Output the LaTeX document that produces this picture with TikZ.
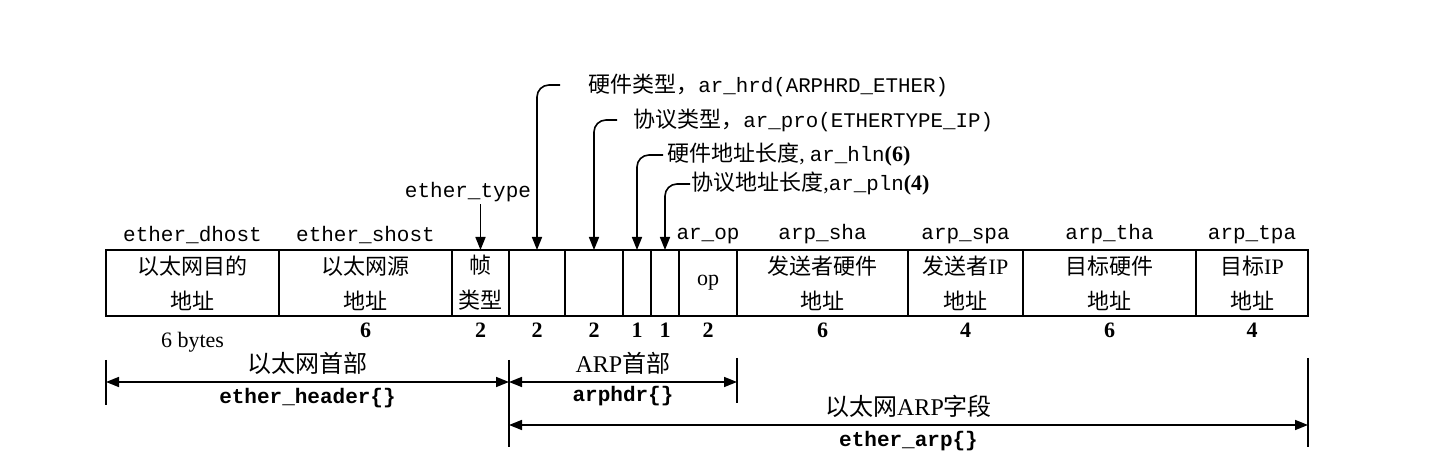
\documentclass[tikz,border=0pt]{standalone}
\usepackage{fontspec}
\setmainfont{Liberation Serif}
\setmonofont{Liberation Mono}
\newfontfamily\cjk{Noto Sans CJK SC}
\newcommand{\code}[1]{{\ttfamily\fontsize{10.4}{13}\selectfont #1}}
\usetikzlibrary{positioning,arrows.meta}

\begin{document}
\begin{tikzpicture}[x=0.5pt, y=-0.5pt,
field/.style={rectangle, draw=black, line width=0.9pt, minimum width=#1*0.5pt, minimum height=33pt, inner sep=0pt, outer sep=0pt, align=center, font=\cjk\fontsize{11}{17.5}\selectfont},
fieldname/.style={font=\ttfamily\fontsize{10.5}{12}\selectfont, inner sep=1pt},
bytes/.style={font=\bfseries\fontsize{11}{12}\selectfont, inner sep=1pt},
note/.style={anchor=west, inner sep=0pt, font=\cjk\fontsize{11}{13}\selectfont},
pointer/.style={-{Triangle[length=6.5pt,width=5pt]}, line width=0.8pt, rounded corners=6pt},
span/.style={{Triangle[length=6.5pt,width=5pt]}-{Triangle[length=6.5pt,width=5pt]}, line width=0.8pt},
spantext/.style={inner sep=0pt, font=\cjk\fontsize{12}{14}\selectfont},
spancode/.style={inner sep=0pt, font=\ttfamily\bfseries\fontsize{10.5}{12}\selectfont},
tick/.style={line width=0.8pt},
]
\useasboundingbox (0,0) rectangle (1434,474);

%Nodes
\node[field=173, anchor=north west] (dhost) at (106,250) {以太网目的\\地址};
\node[field=173]  (shost)  [right=0pt of dhost]  {以太网源\\地址};
\node[field=57]   (type)   [right=0pt of shost]  {帧\\类型};
\node[field=56]   (hrd)    [right=0pt of type]   {};
\node[field=58]   (pro)    [right=0pt of hrd]    {};
\node[field=28]   (hln)    [right=0pt of pro]    {};
\node[field=28]   (pln)    [right=0pt of hln]    {};
\node[field=58]   (op)     [right=0pt of pln]    {\rmfamily op};
\node[field=171]  (sha)    [right=0pt of op]     {发送者硬件\\地址};
\node[field=115]  (spa)    [right=0pt of sha]    {发送者{\rmfamily IP}\\地址};
\node[field=173]  (tha)    [right=0pt of spa]    {目标硬件\\地址};
\node[field=112]  (tpa)    [right=0pt of tha]    {目标{\rmfamily IP}\\地址};

\node[fieldname]  (ldhost) [above=2pt of dhost]  {ether\_dhost};
\node[fieldname]  (lshost) [above=2pt of shost]  {ether\_shost};
\node[fieldname]  (lop)    [above=2pt of op]     {ar\_op};
\node[fieldname]  (lsha)   [above=2pt of sha]    {arp\_sha};
\node[fieldname]  (lspa)   [above=2pt of spa]    {arp\_spa};
\node[fieldname]  (ltha)   [above=2pt of tha]    {arp\_tha};
\node[fieldname]  (ltpa)   [above=2pt of tpa]    {arp\_tpa};
\node[fieldname]  (ltype)  at (468,192)          {ether\_type};

\node[bytes, font=\rmfamily\fontsize{11}{12}\selectfont] (bdhost) [below=7pt of dhost] {6 bytes};
\node[bytes]      (bshost) [below=2.5pt of shost] {6};
\node[bytes]      (btype)  [below=2.5pt of type]  {2};
\node[bytes]      (bhrd)   [below=2.5pt of hrd]   {2};
\node[bytes]      (bpro)   [below=2.5pt of pro]   {2};
\node[bytes]      (bhln)   [below=2.5pt of hln]   {1};
\node[bytes]      (bpln)   [below=2.5pt of pln]   {1};
\node[bytes]      (bop)    [below=2.5pt of op]    {2};
\node[bytes]      (bsha)   [below=2.5pt of sha]   {6};
\node[bytes]      (bspa)   [below=2.5pt of spa]   {4};
\node[bytes]      (btha)   [below=2.5pt of tha]   {6};
\node[bytes]      (btpa)   [below=2.5pt of tpa]   {4};

\node[note] (nhrd) at (588,85)  {硬件类型，\code{ar\_hrd(ARPHRD\_ETHER)}};
\node[note] (npro) at (633,120) {协议类型，\code{ar\_pro(ETHERTYPE\_IP)}};
\node[note] (nhln) at (667,155) {硬件地址长度{\rmfamily,} \code{ar\_hln}{\rmfamily\bfseries(6)}};
\node[note] (npln) at (691,184) {协议地址长度{\rmfamily,}\code{ar\_pln}{\rmfamily\bfseries(4)}};

\coordinate (hdrL) at (dhost.west |- 0,382);
\coordinate (hdrR) at (type.east |- 0,382);
\coordinate (arpR) at (op.east |- 0,382);
\coordinate (allL) at (type.east |- 0,425);
\coordinate (allR) at (tpa.east |- 0,425);

%Lines
\draw[pointer] (type.north |- ltype.south) -- (type.north);
\draw[pointer] ([xshift=-14pt]nhrd.west) -| (hrd.north);
\draw[pointer] ([xshift=-8pt]npro.west) -| (pro.north);
\draw[pointer] ([xshift=-2pt]nhln.west) -| (hln.north);
\draw[pointer] ([xshift=-0.5pt]npln.west) -| (pln.north);

\draw[tick] (dhost.west |- 0,360) -- (dhost.west |- 0,405);
\draw[tick] (type.east |- 0,360) -- (type.east |- 0,447);
\draw[tick] (op.east |- 0,358) -- (op.east |- 0,403);
\draw[tick] (tpa.east |- 0,358) -- (tpa.east |- 0,447);

\draw[span] (hdrL) -- node[spantext, above=3.5pt] (thdr) {以太网首部} node[spancode, below=2.5pt] (chdr) {ether\_header\{\}} (hdrR);
\draw[span] (hdrR) -- node[spantext, above=3.5pt] (tarp) {{\rmfamily ARP}首部} node[spancode, below=1.5pt] (carp) {arphdr\{\}} (arpR);
\draw[span] (allL) -- node[spantext, above=3.5pt] (tall) {以太网{\rmfamily ARP}字段} node[spancode, below=2.5pt] (call) {ether\_arp\{\}} (allR);

\end{tikzpicture}
\end{document}
